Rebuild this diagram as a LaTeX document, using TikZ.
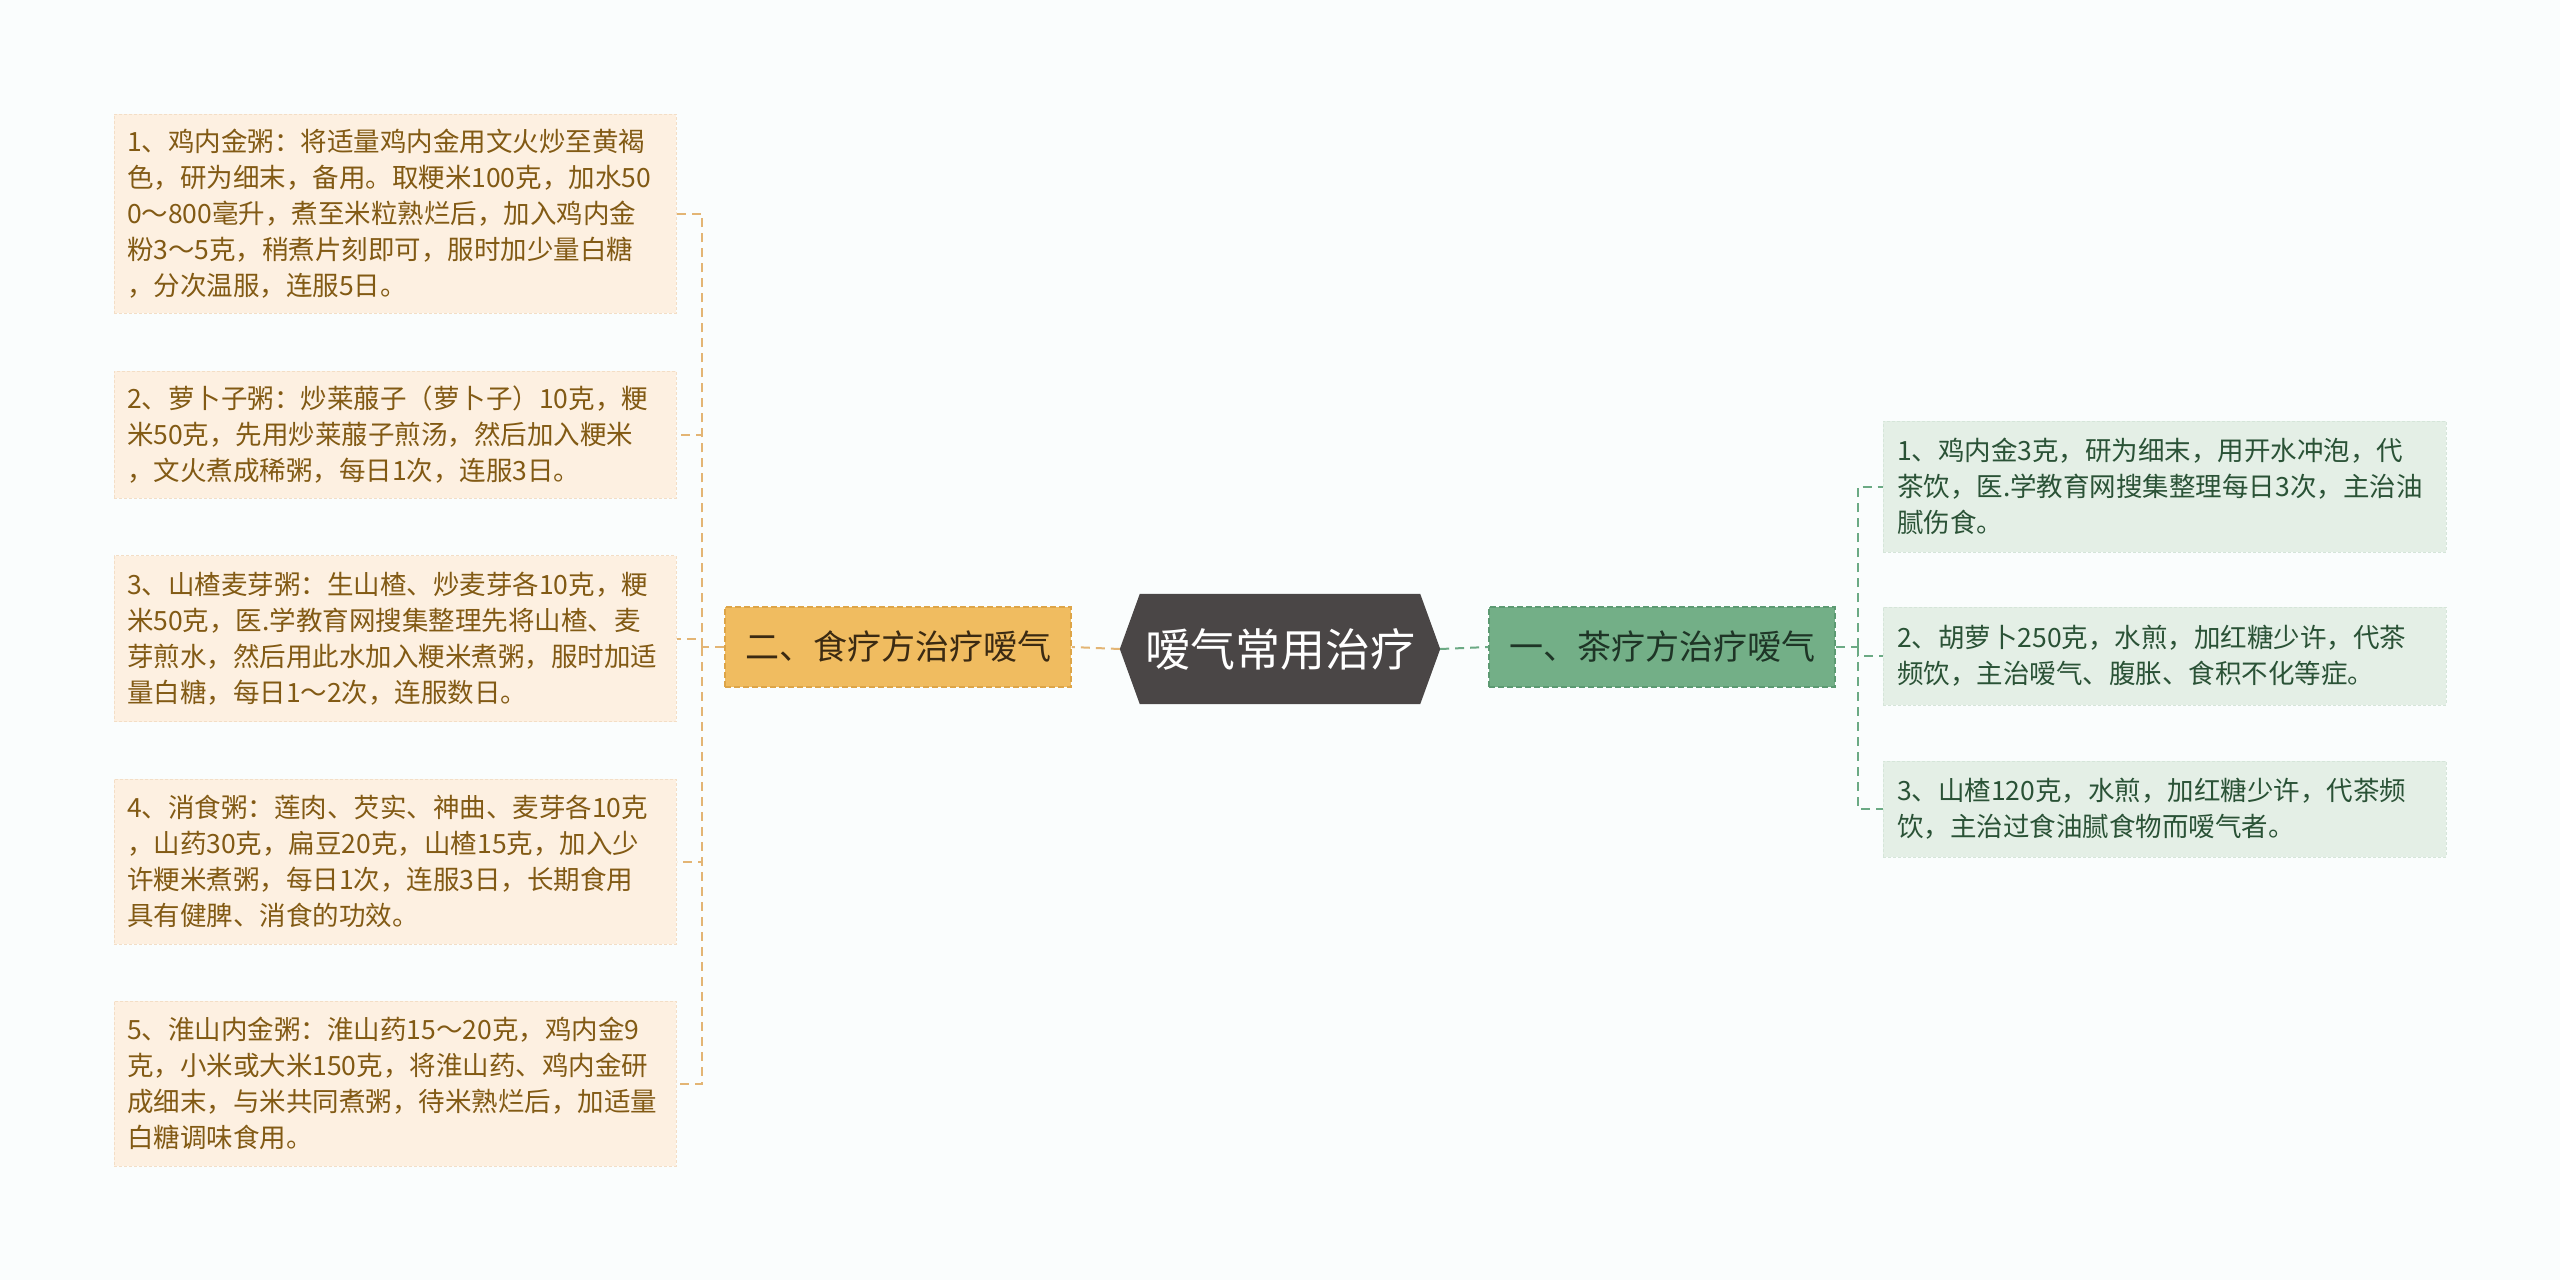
\documentclass[tikz,border=0pt]{standalone}
\usepackage{fontspec}
\setmainfont{Noto Sans CJK SC}
\usetikzlibrary{backgrounds}
\definecolor{leftfill}{HTML}{FDF0E1}
\definecolor{leftborder}{HTML}{F3DEC6}
\definecolor{lefttext}{HTML}{825A14}
\definecolor{orangefill}{HTML}{F0BC60}
\definecolor{orangeborder}{HTML}{DDA548}
\definecolor{orangetext}{HTML}{3B2A12}
\definecolor{hexfill}{HTML}{4A4646}
\definecolor{greenfill}{HTML}{73AF87}
\definecolor{greenborder}{HTML}{5C9A72}
\definecolor{greentext}{HTML}{1E3526}
\definecolor{rightfill}{HTML}{E4EFE6}
\definecolor{rightborder}{HTML}{D5E5D9}
\definecolor{righttext}{HTML}{2A5236}
\definecolor{leftline}{HTML}{E3B574}
\definecolor{rightline}{HTML}{6BAA84}
\definecolor{pagebg}{HTML}{FAFDFD}
\begin{document}
\begin{tikzpicture}[x=1pt,y=-1pt,
  lbox/.style={fill=leftfill, draw=leftborder, dash pattern=on 3pt off 2pt, line width=1pt,
    text=lefttext, font=\fontsize{26.5}{36}\selectfont, text width=536pt, align=left,
    inner xsep=13pt, inner ysep=0pt, minimum width=562pt},
  rbox/.style={fill=rightfill, draw=rightborder, dash pattern=on 3pt off 2pt, line width=1pt,
    text=righttext, font=\fontsize{26.5}{36}\selectfont, text width=535pt, align=left,
    inner xsep=14pt, inner ysep=0pt, minimum width=563pt},
  branch/.style={dash pattern=on 6pt off 3pt, line width=1.5pt, minimum width=346pt,
    minimum height=80pt, inner sep=0pt, font=\fontsize{34}{40}\selectfont},
  lconn/.style={draw=leftline, line width=2pt, dash pattern=on 9pt off 6pt},
  rconn/.style={draw=rightline, line width=2pt, dash pattern=on 9pt off 6pt}]
\begin{pgfonlayer}{background}
\fill[pagebg] (0,0) rectangle (2560,1280);
\end{pgfonlayer}
\useasboundingbox (0,0) rectangle (2560,1280);

% left leaves
\node[lbox, minimum height=199pt] (l1) at (395,213.5) {1、鸡内金粥：将适量鸡内金用文火炒至黄褐\\
色，研为细末，备用。取粳米100克，加水50\\
0～800毫升，煮至米粒熟烂后，加入鸡内金\\
粉3～5克，稍煮片刻即可，服时加少量白糖\\
，分次温服，连服5日。};
\node[lbox, minimum height=127pt] (l2) at (395,434.5) {2、萝卜子粥：炒莱菔子（萝卜子）10克，粳\\
米50克，先用炒莱菔子煎汤，然后加入粳米\\
，文火煮成稀粥，每日1次，连服3日。};
\node[lbox, minimum height=166pt] (l3) at (395,638.5) {3、山楂麦芽粥：生山楂、炒麦芽各10克，粳\\
米50克，医.学教育网搜集整理先将山楂、麦\\
芽煎水，然后用此水加入粳米煮粥，服时加适\\
量白糖，每日1～2次，连服数日。};
\node[lbox, minimum height=165pt] (l4) at (395,861.5) {4、消食粥：莲肉、芡实、神曲、麦芽各10克\\
，山药30克，扁豆20克，山楂15克，加入少\\
许粳米煮粥，每日1次，连服3日，长期食用\\
具有健脾、消食的功效。};
\node[lbox, minimum height=165pt] (l5) at (395,1083.5) {5、淮山内金粥：淮山药15～20克，鸡内金9\\
克，小米或大米150克，将淮山药、鸡内金研\\
成细末，与米共同煮粥，待米熟烂后，加适量\\
白糖调味食用。};

% right leaves
\node[rbox, minimum height=131pt] (r1) at (2164.5,486.5) {1、鸡内金3克，研为细末，用开水冲泡，代\\
茶饮，医.学教育网搜集整理每日3次，主治油\\
腻伤食。};
\node[rbox, minimum height=98pt] (r2) at (2164.5,656) {2、胡萝卜250克，水煎，加红糖少许，代茶\\
频饮，主治嗳气、腹胀、食积不化等症。};
\node[rbox, minimum height=96pt] (r3) at (2164.5,809) {3、山楂120克，水煎，加红糖少许，代茶频\\
饮，主治过食油腻食物而嗳气者。};

% branches
\node[branch, fill=orangefill, draw=orangeborder, text=orangetext] (ob) at (898,647) {二、食疗方治疗嗳气};
\node[branch, fill=greenfill, draw=greenborder, text=greentext] (gb) at (1662,647) {一、茶疗方治疗嗳气};

% center
\node[minimum width=320pt, minimum height=110pt, inner sep=0pt, text=white,
  font=\fontsize{45}{50}\selectfont] (c) at (1280,649) {嗳气常用治疗};
\begin{pgfonlayer}{background}
\fill[hexfill] (c.west) -- ([xshift=20pt]c.north west) -- ([xshift=-20pt]c.north east)
  -- (c.east) -- ([xshift=-20pt]c.south east) -- ([xshift=20pt]c.south west) -- cycle;
\end{pgfonlayer}

% junctions
\coordinate (jL) at (702,647);
\coordinate (jR) at (1858,647);

% connectors
\draw[lconn] (c.west) -- (ob.east);
\draw[rconn] (c.east) -- (gb.west);
\draw[lconn] (ob.west) -- (jL);
\draw[lconn] (jL) |- (l1.east);
\draw[lconn] (jL) |- (l2.east);
\draw[lconn] (jL) |- (l3.east);
\draw[lconn] (jL) |- (l4.east);
\draw[lconn] (jL) |- (l5.east);
\draw[rconn] (gb.east) -- (jR);
\draw[rconn] (jR) |- (r1.west);
\draw[rconn] (jR) |- (r2.west);
\draw[rconn] (jR) |- (r3.west);
\end{tikzpicture}
\end{document}
